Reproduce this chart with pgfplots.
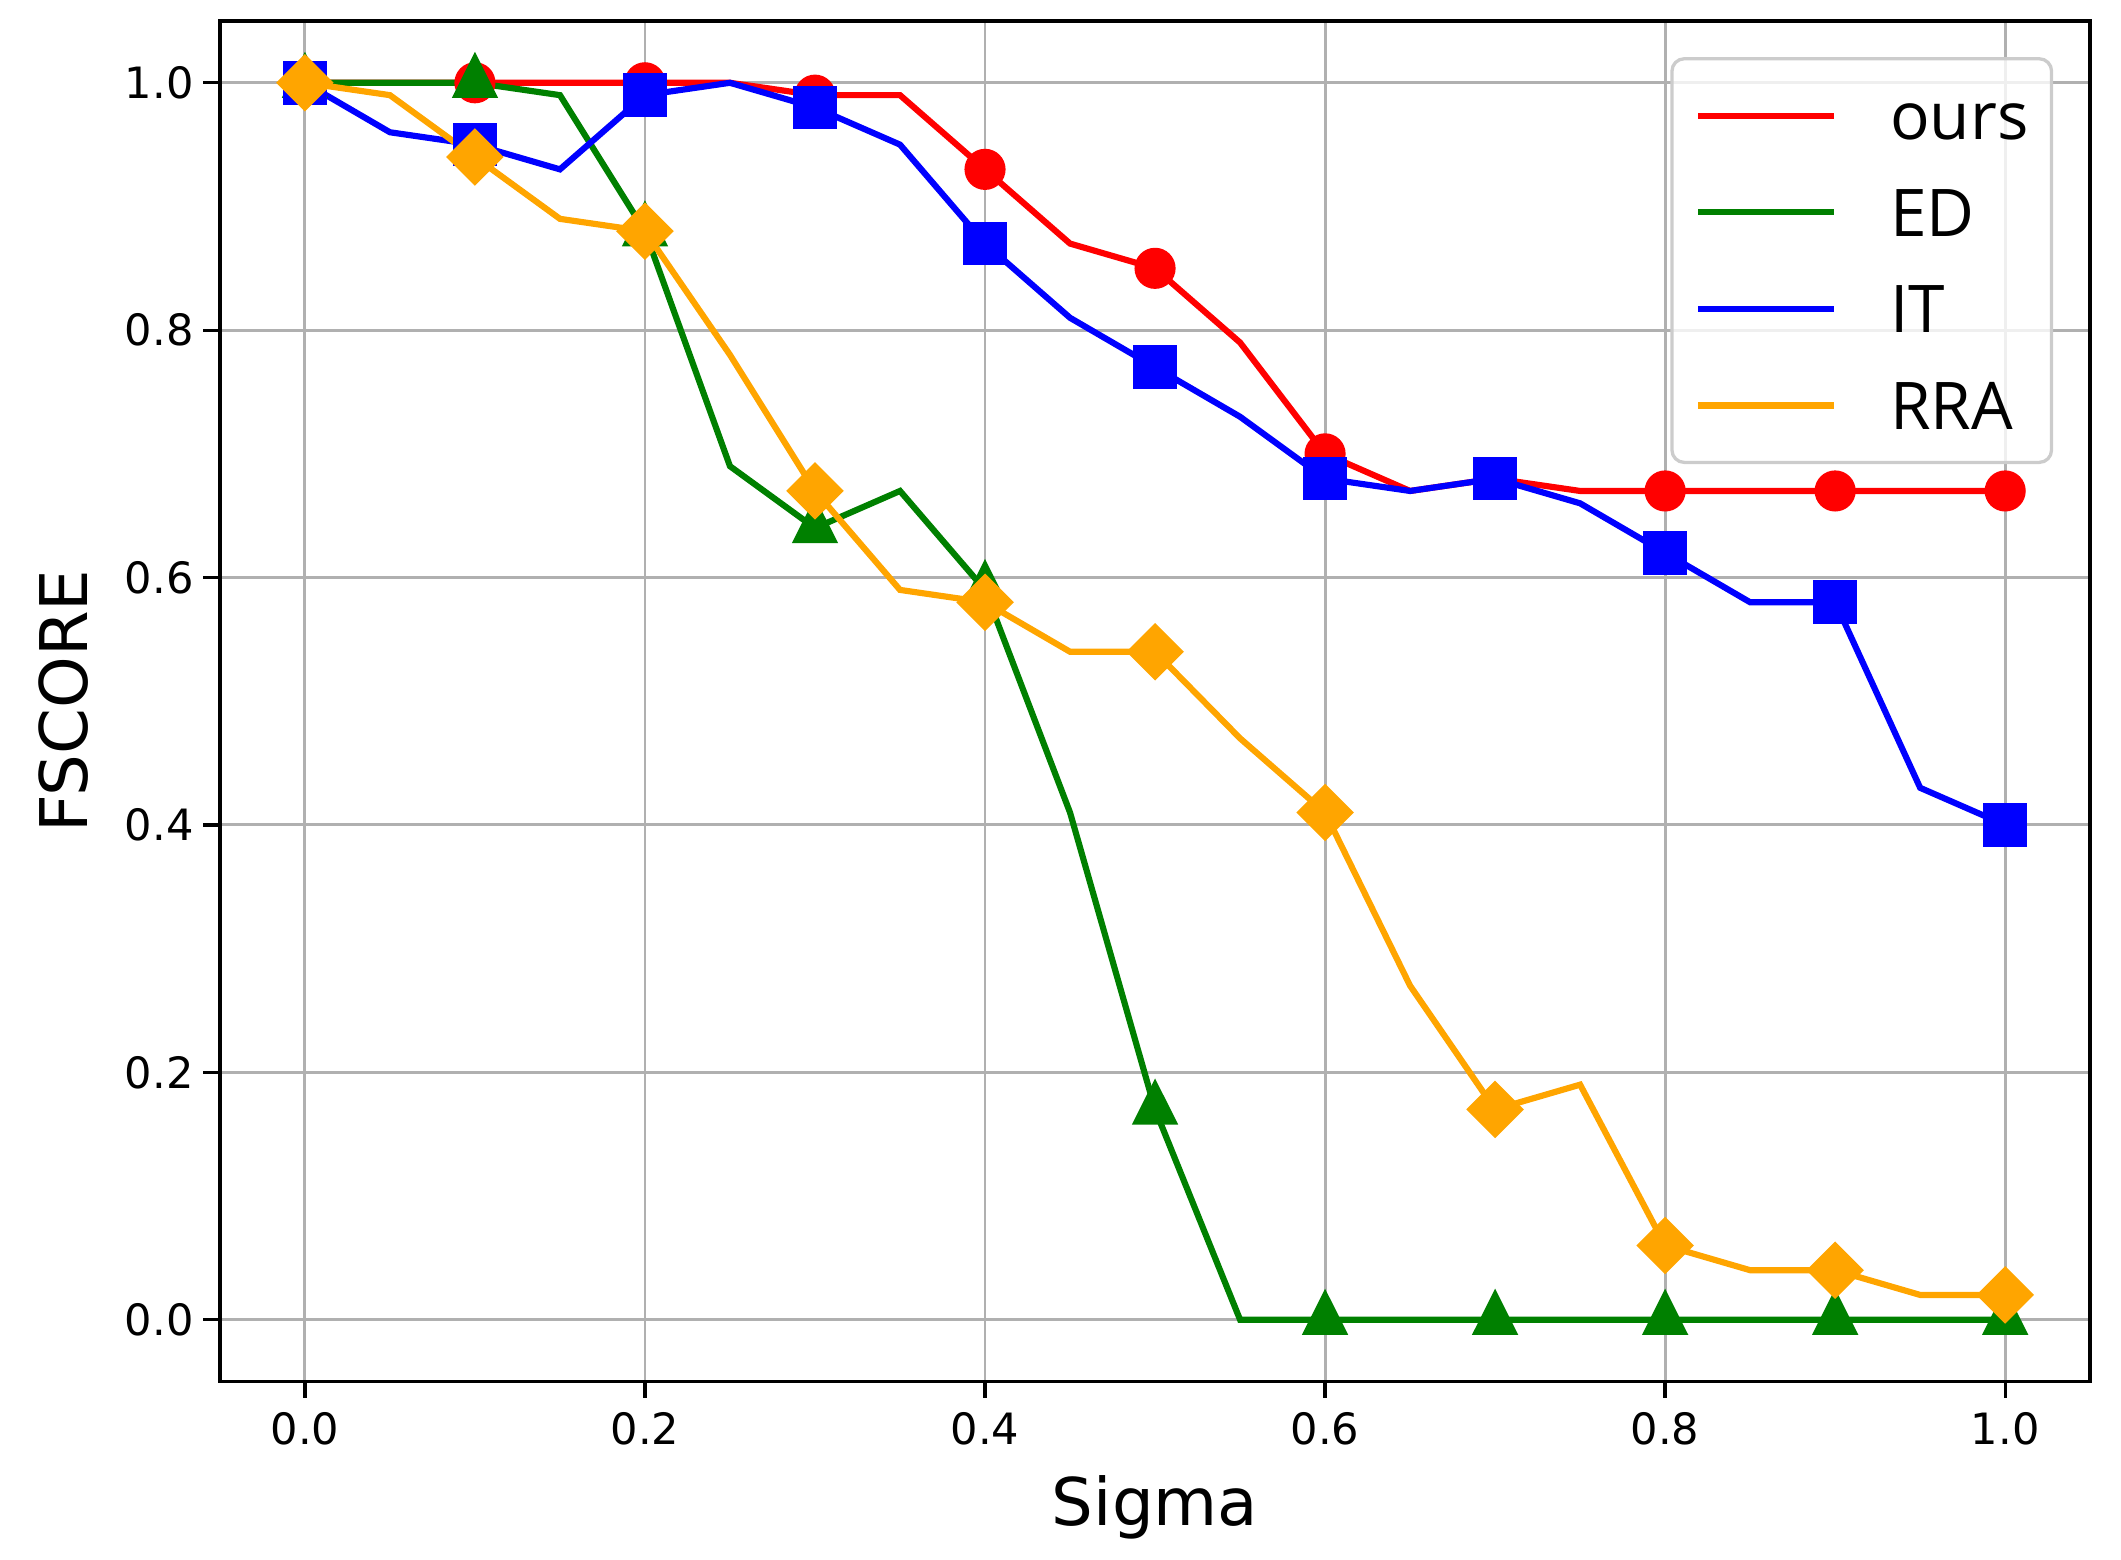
\documentclass[border=0pt]{standalone}
\usepackage{fontspec}
\setmainfont{DejaVu Sans}
\newfontfamily\legfont{Open Sans}
\usepackage{pgfplots}
\pgfplotsset{compat=1.18}
\definecolor{cred}{HTML}{FF0000}
\definecolor{cgreen}{HTML}{008000}
\definecolor{cblue}{HTML}{0000FF}
\definecolor{corange}{HTML}{FFA500}
\definecolor{gridgray}{HTML}{B0B0B0}
\definecolor{leggray}{HTML}{CCCCCC}

\pgfplotstableread{
x y
0.00 1.00
0.05 1.00
0.10 1.00
0.15 1.00
0.20 1.00
0.25 1.00
0.30 0.99
0.35 0.99
0.40 0.93
0.45 0.87
0.50 0.85
0.55 0.79
0.60 0.70
0.65 0.67
0.70 0.68
0.75 0.67
0.80 0.67
0.85 0.67
0.90 0.67
0.95 0.67
1.00 0.67
}\ours

\pgfplotstableread{
x y
0.00 1.00
0.05 1.00
0.10 1.00
0.15 0.99
0.20 0.88
0.25 0.69
0.30 0.64
0.35 0.67
0.40 0.59
0.45 0.41
0.50 0.17
0.55 0.00
0.60 0.00
0.65 0.00
0.70 0.00
0.75 0.00
0.80 0.00
0.85 0.00
0.90 0.00
0.95 0.00
1.00 0.00
}\ED

\pgfplotstableread{
x y
0.00 1.00
0.05 0.96
0.10 0.95
0.15 0.93
0.20 0.99
0.25 1.00
0.30 0.98
0.35 0.95
0.40 0.87
0.45 0.81
0.50 0.77
0.55 0.73
0.60 0.68
0.65 0.67
0.70 0.68
0.75 0.66
0.80 0.62
0.85 0.58
0.90 0.58
0.95 0.43
1.00 0.40
}\IT

\pgfplotstableread{
x y
0.00 1.00
0.05 0.99
0.10 0.94
0.15 0.89
0.20 0.88
0.25 0.78
0.30 0.67
0.35 0.59
0.40 0.58
0.45 0.54
0.50 0.54
0.55 0.47
0.60 0.41
0.65 0.27
0.70 0.17
0.75 0.19
0.80 0.06
0.85 0.04
0.90 0.04
0.95 0.02
1.00 0.02
}\RRA

\begin{document}
\begin{tikzpicture}
\path[use as bounding box] (-53.5pt,-43.3pt) rectangle (462.5pt,336.1pt);
\begin{axis}[
  scale only axis,
  width=455pt, height=331pt,
  xmin=-0.05, xmax=1.05, ymin=-0.05, ymax=1.05,
  xtick={0,0.2,0.4,0.6,0.8,1.0},
  xticklabels={0.0,0.2,0.4,0.6,0.8,1.0},
  ytick={0,0.2,0.4,0.6,0.8,1.0},
  yticklabels={0.0,0.2,0.4,0.6,0.8,1.0},
  xtick pos=bottom, ytick pos=left,
  grid=major,
  major grid style={color=gridgray, line width=0.7pt},
  axis line style={line width=0.9pt, black},
  tick align=outside,
  major tick length=4pt,
  tick style={black, line width=0.8pt},
  ticklabel style={font=\fontsize{10.5}{12}\selectfont},
  xticklabel style={yshift=0.1pt},
  yticklabel style={xshift=1.1pt},
  xlabel={Sigma}, ylabel={FSCORE},
  label style={font=\fontsize{16}{19}\selectfont},
  xlabel style={at={([yshift=-35pt]axis description cs:0.5,0)}, anchor=base},
  ylabel style={at={([xshift=-38pt]axis description cs:0,0.5)}, anchor=center},
  legend cell align=left,
  legend style={at={(1,1)}, anchor=north east, xshift=-9pt, yshift=-8.8pt,
    draw=leggray, line width=0.8pt, rounded corners=3pt,
    fill=white, fill opacity=0.8, text opacity=1,
    inner xsep=5.6pt, inner ysep=8pt, row sep=11.8pt, column sep=0pt,
    font=\legfont\fontsize{16}{19}\selectfont,
    nodes={inner sep=0pt, text height=11.7pt, text depth=0pt}},
  legend image code/.code={\draw[#1] (0pt,0pt) -- (33pt,0pt); \path (46pt,0pt);},
]
\addplot[color=cred, line width=1.5pt, mark=*, mark size=4.25pt, mark repeat=2] table {\ours};
\addlegendentry{ours}
\addplot[color=cgreen, line width=1.5pt, mark=triangle*, mark size=5.1pt, mark repeat=2, mark options={yscale=1.15}] table {\ED};
\addlegendentry{ED}
\addplot[color=cblue, line width=1.5pt, mark=square*, mark size=4.55pt, mark repeat=2] table {\IT};
\addlegendentry{IT}
\addplot[color=corange, line width=1.5pt, mark=square*, mark size=4.2pt, mark repeat=2, mark options={rotate=45}] table {\RRA};
\addlegendentry{RRA}
\end{axis}
\end{tikzpicture}
\end{document}
